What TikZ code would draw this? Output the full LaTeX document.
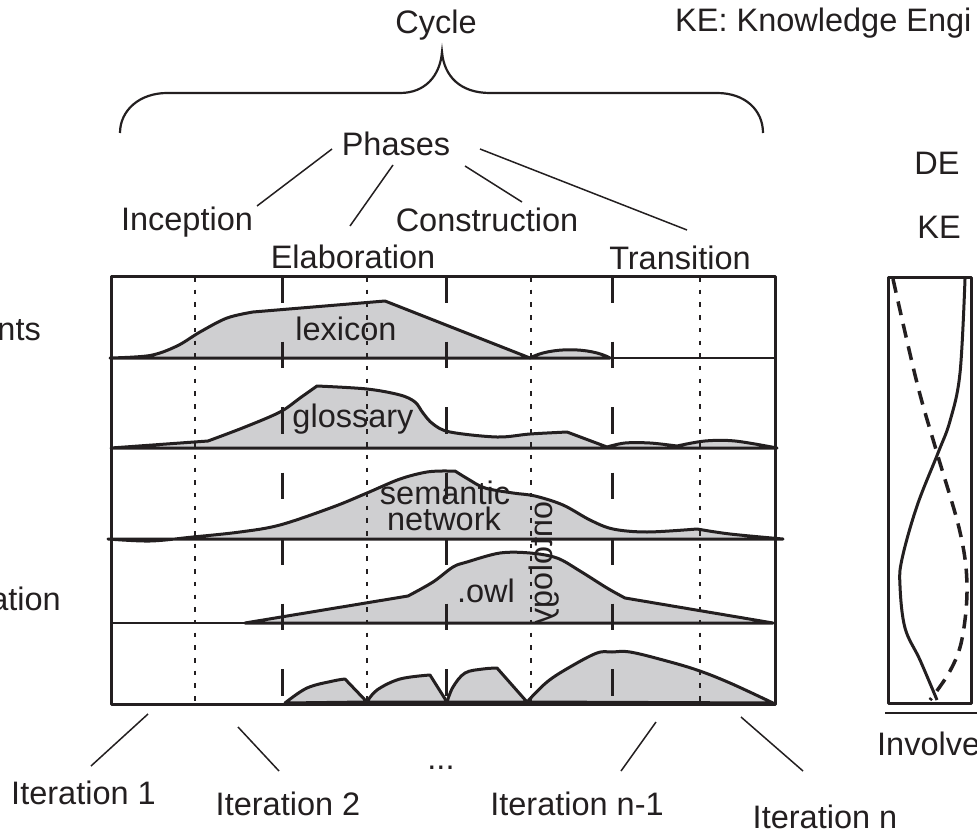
\documentclass[tikz,border=0pt]{standalone}
\usepackage{fontspec}
\setmainfont{Liberation Sans}
\definecolor{inkc}{HTML}{231F20}
\definecolor{fillc}{HTML}{CFCFD1}
\begin{document}
\begin{tikzpicture}[x=1pt,y=-1pt,
  lbl/.style={font=\fontsize{32.5}{39}\selectfont, text=inkc, inner sep=0pt, anchor=base},
  shade/.style={fill=fillc},
  curve/.style={draw=inkc, line width=3pt, line join=round},
  thinrule/.style={draw=inkc, line width=1.4pt},
  phaseline/.style={draw=inkc, line width=3pt, dash pattern=on 26.5pt off 39pt},
  iterline/.style={draw=inkc, line width=1.6pt, dash pattern=on 4.5pt off 8.2pt},
  leader/.style={draw=inkc, line width=1.5pt},
  bracestyle/.style={draw=inkc, line width=2.2pt},
]
\useasboundingbox (0,0) rectangle (977,832);

% ---- effort curves of the five work products ----
\def\pathLex{(110,358) -- plot[smooth,tension=.55] coordinates {(110,358) (150,355.5) (177,346) (200,332) (227,318) (253,312)}
  -- (385,301) -- (530,358) -- cycle}
\def\pathLexTail{(530,358) .. controls (550,347) and (590,347) .. (610,358) -- cycle}
\def\pathGloss{(111,448) -- (208,441)
  -- plot[smooth,tension=.55] coordinates {(208,441) (245,427) (280,412) (300,398) (317,386)}
  -- plot[smooth,tension=.55] coordinates {(317,386) (367,389) (400,395) (415,402) (423,413) (433,424) (450,432) (497,437) (530,434) (567,432)}
  -- plot[smooth,tension=.55] coordinates {(607,447) (625,443) (650,443) (677,446)}
  -- plot[smooth,tension=.55] coordinates {(677,446) (705,441) (735,441) (777,448)}
  -- cycle}
\def\pathSem{(108,539)
  -- plot[smooth,tension=.55] coordinates {(108,539) (150,541) (193,537) (240,532) (280,525) (333,507) (367,493) (400,479) (427,472) (447,471)}
  -- plot[smooth,tension=.55] coordinates {(455,471) (468,479) (485,488) (513,493) (535,496) (563,505) (590,520) (613,529) (647,532) (697,529)}
  -- plot[smooth,tension=.55] coordinates {(697,529) (730,534) (783,539)}
  -- cycle}
\def\pathOwl{(245,623) -- (408,596)
  -- plot[smooth,tension=.55] coordinates {(408,596) (433,582) (453,567) (467,562) (500,553) (530,553) (557,558) (580,571) (607,588) (625,598)}
  -- (773,623) -- cycle}
\def\pathHumpA{(285,703) -- plot[smooth,tension=.6] coordinates {(285,703) (307,688) (333,681) (345,679)} -- (367,702) -- cycle}
\def\pathHumpB{(367,702) -- plot[smooth,tension=.6] coordinates {(367,702) (377,690) (400,679) (430,675)} -- (447,702) -- cycle}
\def\pathHumpC{(447,702) -- plot[smooth,tension=.6] coordinates {(447,702) (453,687) (465,673) (483,669) (497,668)} -- (527,702) -- cycle}
\def\pathHumpD{(527,702) -- plot[smooth,tension=.6] coordinates {(527,702) (547,682) (570,667) (597,653) (612,652) (630,652) (663,660) (697,670) (730,683) (773,703)} -- cycle}

\foreach \p in {\pathLex,\pathLexTail,\pathGloss,\pathSem,\pathOwl,\pathHumpA,\pathHumpB,\pathHumpC,\pathHumpD}
  \path[shade] \p;

% ---- row dividers ----
\foreach \yy in {358,448,539,623}
  \draw[thinrule] (111,\yy) -- (775,\yy);

% ---- iteration and phase boundaries ----
\foreach \xx in {195,367,531,700}
  \draw[iterline] (\xx,277) -- (\xx,703);
\foreach \xx in {282,446,612}
  \draw[phaseline] (\xx,276) -- (\xx,704);

% ---- curve outlines ----
\foreach \p in {\pathLex,\pathLexTail,\pathGloss,\pathSem,\pathOwl,\pathHumpA,\pathHumpB,\pathHumpC,\pathHumpD}
  \path[curve] \p;

% ---- frame ----
\draw[curve] (111,276) rectangle (775,704);

% ---- involvement panel ----
\draw[curve] (888,277) rectangle (971,703);
\draw[draw=inkc, line width=3pt] plot[smooth,tension=.6] coordinates {(965,279) (960,373) (950,421) (938,453) (917,506) (902,559) (900,586) (905,628) (920,660) (937,700)};
\draw[draw=inkc, line width=3.5pt, dash pattern=on 14pt off 9pt] plot[smooth,tension=.6] coordinates {(893,279) (917,383) (937,453) (960,532) (967,586) (962,639) (950,671) (930,700)};
\draw[leader] (885,713) -- (977,713);

% ---- cycle brace ----
\draw[bracestyle] (120,133) .. controls (120,110) and (140,93) .. (167,93) -- (400,93)
  .. controls (425,93) and (440,76) .. (442,52)
  .. controls (444,76) and (460,93) .. (490,93) -- (717,93)
  .. controls (745,93) and (763,110) .. (763,133);

% ---- labels ----
\node[lbl] (cycle) at (436,34) {Cycle};
\node[lbl, anchor=base west] (kekey) at (675,32) {KE: Knowledge Engi};
\node[lbl] (phases) at (396,155) {Phases};
\node[lbl] (incep) at (187,230) {Inception};
\node[lbl] (elab) at (353,268) {Elaboration};
\node[lbl] (constr) at (487,231) {Construction};
\node[lbl] (trans) at (680,269) {Transition};
\node[lbl] (de) at (937,175) {DE};
\node[lbl] (ke) at (939,238) {KE};
\node[lbl, anchor=base east] (rowa) at (41,340) {nts};
\node[lbl, anchor=base east] (rowd) at (61,610) {ation};
\node[lbl] (lex) at (346,340) {lexicon};
\node[lbl] (gloss) at (353,427) {glossary};
\node[lbl] (sem) at (445,504) {semantic};
\node[lbl] (net) at (444,530) {network};
\node[lbl] (owl) at (486,602) {.owl};
\node[lbl, anchor=center, rotate=-90, yscale=-1] (onto) at (544,563) {ontology};
\node[lbl] (dots) at (441,769) {...};
\node[lbl] (it1) at (83.5,804) {Iteration 1};
\node[lbl] (it2) at (288,815) {Iteration 2};
\node[lbl] (itn1) at (577,815) {Iteration n-1};
\node[lbl] (itn) at (825,828) {Iteration n};
\node[lbl, anchor=base west] (inv) at (877,755) {Involve};

% ---- leader lines ----
\coordinate (ph-inc) at (332,149);  \coordinate (inc-top) at (257,206);
\coordinate (ph-ela) at (393,165);  \coordinate (ela-top) at (350,226);
\coordinate (ph-con) at (465,166);  \coordinate (con-top) at (522,202);
\coordinate (ph-tra) at (480,149);  \coordinate (tra-top) at (687,230);
\draw[leader] (ph-inc) -- (inc-top);
\draw[leader] (ph-ela) -- (ela-top);
\draw[leader] (ph-con) -- (con-top);
\draw[leader] (ph-tra) -- (tra-top);

\coordinate (fr-it1) at (148,714);  \coordinate (it1-top) at (91,766);
\coordinate (fr-it2) at (238,727);  \coordinate (it2-top) at (279,771);
\coordinate (fr-itn1) at (656,722); \coordinate (itn1-top) at (621,771);
\coordinate (fr-itn) at (741,717);  \coordinate (itn-top) at (803,771);
\draw[leader] (fr-it1) -- (it1-top);
\draw[leader] (fr-it2) -- (it2-top);
\draw[leader] (fr-itn1) -- (itn1-top);
\draw[leader] (fr-itn) -- (itn-top);
\end{tikzpicture}
\end{document}
